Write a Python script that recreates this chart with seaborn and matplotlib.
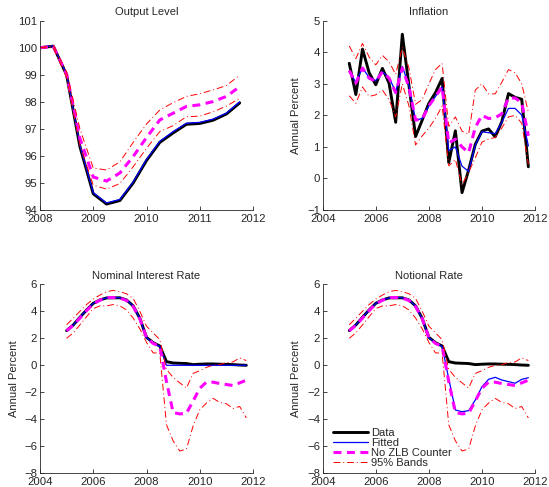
import numpy as np
import pandas as pd
import matplotlib
matplotlib.use("Agg")
import matplotlib.pyplot as plt
import seaborn as sns

# quarterly dates
q_out = np.arange(2008.0, 2012.0, 0.25)
q_all = np.arange(2005.0, 2012.0, 0.25)

# Output Level
data_out = [100.0, 100.06, 98.99, 96.34, 94.6, 94.22, 94.35, 95.0, 95.83, 96.5, 96.85, 97.17, 97.2, 97.32, 97.55, 97.96]
fit_out = [100.0, 100.08, 99.02, 96.4, 94.64, 94.26, 94.39, 95.04, 95.87, 96.54, 96.9, 97.21, 97.24, 97.36, 97.58, 98.0]
nozlb_out = [100.0, 100.05, 99.02, 96.65, 95.22, 95.07, 95.37, 95.98, 96.68, 97.33, 97.58, 97.83, 97.89, 98.01, 98.2, 98.56]
hi_out = [100.0, 100.1, 99.1, 97.0, 95.55, 95.48, 95.78, 96.5, 97.18, 97.7, 97.97, 98.2, 98.3, 98.44, 98.6, 98.99]
lo_out = [100.0, 100.0, 98.9, 96.4, 94.92, 94.77, 94.98, 95.6, 96.28, 96.9, 97.12, 97.45, 97.47, 97.63, 97.84, 98.13]

# Inflation
data_inf = [3.65, 2.66, 4.1, 3.35, 2.97, 3.49, 3.02, 1.78, 4.57, 2.95, 1.33, 1.85, 2.38, 2.72, 3.17, 0.5,
            1.51, -0.45, 0.27, 1.08, 1.5, 1.57, 1.32, 1.8, 2.69, 2.57, 2.51, 0.37]
fit_inf = [3.4, 3.05, 3.5, 3.2, 3.1, 3.38, 3.2, 2.75, 3.55, 2.95, 1.85, 1.9, 2.3, 2.6, 2.9, 0.88,
           1.0, 0.39, 0.22, 1.06, 1.48, 1.45, 1.42, 1.78, 2.22, 2.22, 2.01, 1.03]
nozlb_inf = [3.42, 3.02, 3.5, 3.18, 3.08, 3.38, 3.18, 2.72, 3.5, 2.9, 1.85, 1.88, 2.3, 2.6, 2.9, 1.12,
             1.25, 1.0, 0.82, 1.62, 2.0, 1.9, 1.92, 2.05, 2.55, 2.55, 2.4, 1.35]
hi_inf = [4.2, 3.8, 4.28, 3.85, 3.6, 3.9, 3.7, 3.3, 4.15, 3.5, 2.35, 2.5, 3.0, 3.45, 3.65, 1.65,
          1.95, 1.5, 1.4, 2.8, 3.0, 2.68, 2.68, 3.05, 3.45, 3.35, 3.0, 2.1]
lo_inf = [2.62, 2.38, 2.9, 2.6, 2.65, 2.8, 2.5, 1.95, 3.0, 2.3, 1.06, 1.35, 1.6, 1.9, 2.3, 0.4,
          0.6, -0.2, 0.2, 0.65, 1.15, 1.25, 1.3, 1.6, 1.95, 2.0, 1.75, 0.45]

# Nominal Interest Rate / Notional Rate
data_nom = [2.57, 2.99, 3.56, 4.1, 4.59, 4.84, 4.99, 5.0, 5.0, 4.84, 4.4, 3.48, 2.07, 1.68, 1.43, 0.27,
            0.17, 0.15, 0.13, 0.05, 0.08, 0.1, 0.1, 0.08, 0.07, 0.05, 0.02, 0.0]
fit_nom = [2.57, 2.99, 3.56, 4.1, 4.59, 4.84, 5.0, 5.02, 5.0, 4.84, 4.4, 3.45, 2.05, 1.65, 1.4, 0.0,
           0.0, 0.0, 0.0, 0.0, 0.0, 0.0, 0.0, 0.0, 0.0, 0.0, 0.0, 0.0]
fit_notional = [2.57, 2.99, 3.56, 4.1, 4.59, 4.84, 5.0, 5.02, 5.0, 4.84, 4.4, 3.45, 2.05, 1.65, 1.4, -1.0,
                -3.31, -3.44, -3.36, -2.57, -1.59, -1.04, -0.89, -1.09, -1.21, -1.33, -1.04, -0.92]
nozlb_nom = [2.55, 2.97, 3.5, 4.05, 4.55, 4.82, 5.02, 5.02, 4.98, 4.8, 4.35, 3.45, 2.05, 1.62, 1.4, -1.2,
             -3.5, -3.6, -3.55, -2.65, -1.7, -1.25, -1.25, -1.35, -1.42, -1.5, -1.3, -1.1]
hi_nom = [3.0, 3.5, 4.0, 4.5, 4.9, 5.2, 5.45, 5.55, 5.45, 5.3, 4.95, 4.0, 2.9, 2.4, 1.9, -0.3,
          -0.9, -1.3, -1.68, -0.6, -0.4, -0.15, 0.0, 0.05, 0.2, 0.25, 0.55, 0.35]
lo_nom = [2.0, 2.4, 3.0, 3.6, 4.2, 4.4, 4.4, 4.5, 4.4, 4.1, 3.5, 2.7, 1.7, 0.92, 0.9, -4.4,
          -5.6, -6.35, -6.2, -4.5, -3.3, -2.8, -2.45, -2.75, -2.85, -3.2, -3.05, -3.9]

sns.set_style("ticks")
plt.rcParams["font.family"] = ["Liberation Sans", "DejaVu Sans"]
plt.rcParams["xtick.direction"] = "in"
plt.rcParams["ytick.direction"] = "in"

fig = plt.figure(figsize=(5.49, 4.87), dpi=100)
W, H = 549, 487


def make_ax(x0, y_top, x1, y_bot):
    return fig.add_axes([x0 / W, 1 - y_bot / H, (x1 - x0) / W, (y_bot - y_top) / H])


ax1 = make_ax(40, 20.7, 253, 210)
ax2 = make_ax(322.7, 20.7, 535, 210)
ax3 = make_ax(40, 284.3, 253, 473.3)
ax4 = make_ax(322.7, 284.3, 535, 473.3)


def draw(ax, x, data, fit, nozlb, hi, lo):
    sns.lineplot(x=x, y=data, ax=ax, color="black", linewidth=2.1, label="Data")
    sns.lineplot(x=x, y=fit, ax=ax, color="blue", linewidth=0.9, label="Fitted")
    sns.lineplot(x=x, y=nozlb, ax=ax, color="magenta", linewidth=2.2, dashes=(2.6, 1.8),
                 label="No ZLB Counter")
    sns.lineplot(x=x, y=hi, ax=ax, color="red", linewidth=0.7, dashes=(7, 3, 1, 3),
                 label="95% Bands")
    sns.lineplot(x=x, y=lo, ax=ax, color="red", linewidth=0.7, dashes=(7, 3, 1, 3))
    sns.despine(ax=ax)
    ax.set_xlabel("")
    ax.set_ylabel("")
    ax.tick_params(labelsize=8.2, length=3, width=0.6)
    ax.tick_params(axis="x", pad=3)
    ax.tick_params(axis="y", pad=2)
    for s in ax.spines.values():
        s.set_linewidth(0.6)


draw(ax1, q_out, data_out, fit_out, nozlb_out, hi_out, lo_out)
ax1.set_xlim(2008, 2012)
ax1.set_ylim(94, 101)
ax1.set_xticks(range(2008, 2013))
ax1.set_yticks(range(94, 102))
ax1.set_title("Output Level", fontsize=8, pad=4)

draw(ax2, q_all, data_inf, fit_inf, nozlb_inf, hi_inf, lo_inf)
ax2.set_xlim(2004, 2012)
ax2.set_ylim(-1, 5)
ax2.set_xticks(range(2004, 2013, 2))
ax2.set_yticks(range(-1, 6))
ax2.set_title("Inflation", fontsize=8, pad=4)
ax2.set_ylabel("Annual Percent", fontsize=8)

draw(ax3, q_all, data_nom, fit_nom, nozlb_nom, hi_nom, lo_nom)
ax3.set_xlim(2004, 2012)
ax3.set_ylim(-8, 6)
ax3.set_xticks(range(2004, 2013, 2))
ax3.set_yticks(range(-8, 7, 2))
ax3.set_title("Nominal Interest Rate", fontsize=8, pad=4)
ax3.set_ylabel("Annual Percent", fontsize=8)

draw(ax4, q_all, data_nom, fit_notional, nozlb_nom, hi_nom, lo_nom)
ax4.set_xlim(2004, 2012)
ax4.set_ylim(-8, 6)
ax4.set_xticks(range(2004, 2013, 2))
ax4.set_yticks(range(-8, 7, 2))
ax4.set_title("Notional Rate", fontsize=8, pad=4)
ax4.set_ylabel("Annual Percent", fontsize=8)

for ax in (ax1, ax2, ax3):
    ax.get_legend().remove()
ax4.legend(loc="upper left", bbox_to_anchor=(0.015, 0.274), frameon=False, fontsize=8.0,
           handlelength=3.15, handletextpad=0.35, labelspacing=0.0, borderaxespad=0.2)

fig.savefig("out.png", dpi=100)
